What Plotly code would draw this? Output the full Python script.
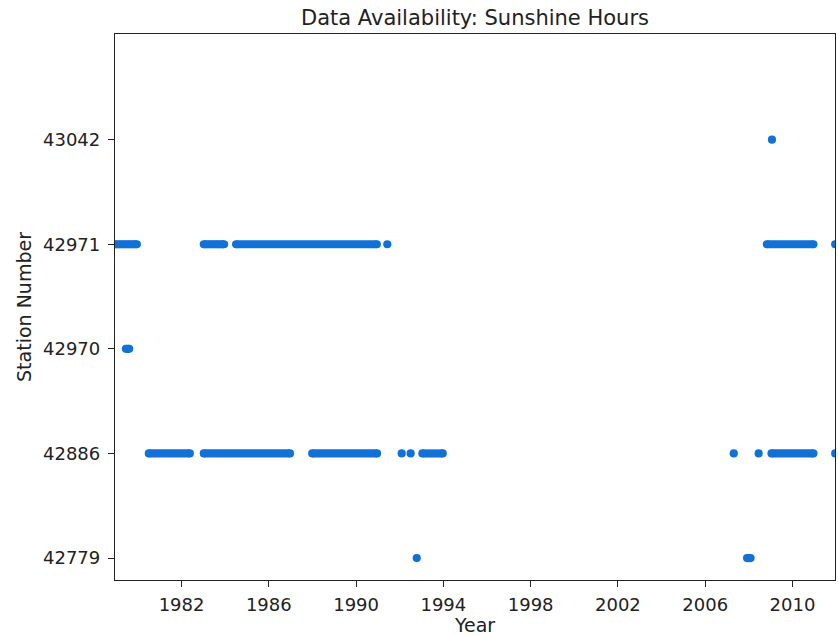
import plotly.graph_objects as go

# Station order on the vertical axis (bottom to top)
stations = ["42779", "42886", "42970", "42971", "43042"]

# Periods with sunshine-hour records, as (start, end) in decimal years.
# A period whose start equals its end is a single observation.
periods_42779 = [(1992.78, 1992.78), (2007.92, 2008.08)]
periods_42886 = [(1980.50, 1982.38), (1983.02, 1986.97), (1987.99, 1990.96),
                 (1992.09, 1992.09), (1992.50, 1992.50), (1993.04, 1993.97),
                 (2007.31, 2007.31), (2008.45, 2008.45), (2009.04, 2010.96),
                 (2011.96, 2011.96)]
periods_42970 = [(1979.45, 1979.60)]
periods_42971 = [(1978.70, 1979.95), (1983.02, 1983.95), (1984.50, 1990.95),
                 (1991.43, 1991.43), (2008.83, 2010.96), (2011.96, 2011.96)]
periods_43042 = [(2009.06, 2009.06)]

station_periods = {
    "42779": periods_42779,
    "42886": periods_42886,
    "42970": periods_42970,
    "42971": periods_42971,
    "43042": periods_43042,
}

year_ticks = [1982, 1986, 1990, 1994, 1998, 2002, 2006, 2010]

dot_color = "#1271d6"
font_family = "DejaVu Sans, Liberation Sans, sans-serif"
text_color = "#222"

fig = go.Figure()

# Continuous periods: thin horizontal bars between the first and last record
bar_y, bar_len, bar_base = [], [], []
# Every period end (and every single record) is drawn as a round dot
dot_x, dot_y = [], []
for st in stations:
    for start, end in station_periods[st]:
        if end > start:
            bar_y.append(st)
            bar_len.append(end - start)
            bar_base.append(start)
            dot_x += [start, end]
            dot_y += [st, st]
        else:
            dot_x.append(start)
            dot_y.append(st)

fig.add_trace(go.Bar(
    y=bar_y, x=bar_len, base=bar_base, orientation="h", width=0.078,
    marker=dict(color=dot_color, line=dict(width=0)),
    showlegend=False, hoverinfo="skip",
))
fig.add_trace(go.Scatter(
    x=dot_x, y=dot_y, mode="markers",
    marker=dict(color=dot_color, size=8.2, line=dict(width=0)),
    showlegend=False, hoverinfo="x+y",
))

axis_common = dict(
    showgrid=False, zeroline=False,
    showline=True, linecolor=text_color, linewidth=1.3, mirror=True,
    ticks="outside", ticklen=6, tickwidth=1.2, tickcolor=text_color,
    tickfont=dict(size=18, color=text_color, family=font_family),
)

fig.update_layout(
    width=838, height=636,
    margin=dict(l=115, r=3, t=34, b=56),
    paper_bgcolor="white", plot_bgcolor="white",
    barmode="overlay",
    title=dict(text="Data Availability: Sunshine Hours",
               xref="paper", x=0.5, xanchor="center",
               y=0.973, yanchor="middle",
               font=dict(size=21, color=text_color, family=font_family)),
    xaxis=dict(
        range=[1978.95, 2011.95], tickmode="array", tickvals=year_ticks,
        ticktext=[str(y) for y in year_ticks], ticklabelstandoff=2,
        title=dict(text="Year", standoff=4,
                   font=dict(size=19, color=text_color, family=font_family)),
        **axis_common,
    ),
    yaxis=dict(
        type="category", categoryorder="array", categoryarray=stations,
        range=[-0.21, 5.01], ticklabelstandoff=4,
        title=dict(text="Station Number", standoff=6,
                   font=dict(size=19, color=text_color, family=font_family)),
        **axis_common,
    ),
)

fig.write_html("out.html")
